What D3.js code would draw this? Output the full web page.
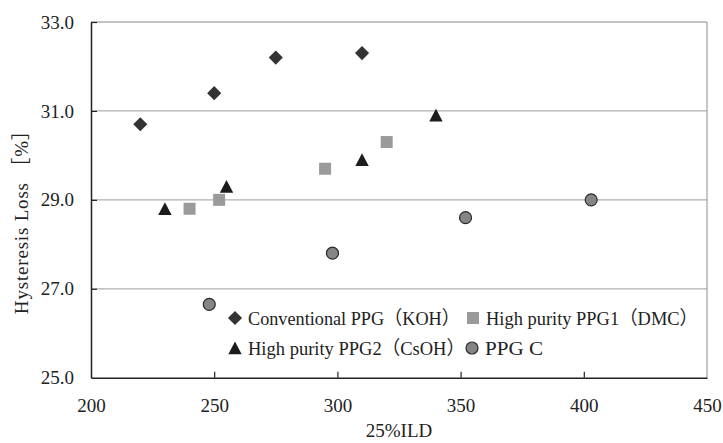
<!DOCTYPE html>
<html>
<head>
<meta charset="utf-8">
<script src="https://cdn.jsdelivr.net/npm/d3@7"></script>
<style>
  body { margin: 0; background: #fff; }
  svg text { font-family: "Liberation Serif", "DejaVu Serif", "Noto Sans CJK JP", serif; fill: #222; }
</style>
</head>
<body>
<div id="chart"></div>
<script>
// data: [25%ILD, hysteresis loss %]
const conventionalKOH = [[220, 30.7], [250, 31.4], [275, 32.2], [310, 32.3]];
const highPurityDMC = [[240, 28.8], [252, 29.0], [295, 29.7], [320, 30.3]];
const highPurityCsOH = [[230, 28.8], [255, 29.3], [310, 29.9], [340, 30.9]];
const ppgC = [[248, 26.65], [298, 27.8], [352, 28.6], [403, 29.0]];

const xTicks = [200, 250, 300, 350, 400, 450];
const yTicks = [25, 27, 29, 31, 33];

const seriesNames = ["Conventional PPG（KOH）", "High purity PPG1（DMC）", "High purity PPG2（CsOH）", "PPG C"];

const cfg = {
    width: 723,
    height: 443,
    margin: { top: 22, right: 16, bottom: 65.3, left: 91 },
    fontSize: 19,
    font: "'Liberation Serif', 'DejaVu Serif', serif",
}

const width = cfg.width - cfg.margin.left - cfg.margin.right,
    height = cfg.height - cfg.margin.top - cfg.margin.bottom;

const x = d3.scaleLinear().domain([200, 450]).range([0, width]);
const y = d3.scaleLinear().domain([25, 33]).range([height, 0]);

const root = d3.select("#chart")
    .append("svg")
    .attr("width", cfg.width)
    .attr("height", cfg.height)
    .style("font-family", cfg.font);

const svg = root.append("g")
    .attr("transform", "translate(" + cfg.margin.left + "," + cfg.margin.top + ")");

// marker shapes (Excel-like)
const diamond = d3.symbol().type(d3.symbolSquare).size(100)();
const square = d3.symbol().type(d3.symbolSquare).size(144)();
const triangle = "M0,-6.5L6.7,6.2L-6.7,6.2Z";
const circle = d3.symbol().type(d3.symbolCircle).size(Math.PI * 36)();

const series = [
    { name: seriesNames[0], data: conventionalKOH, path: diamond, rotate: 45, fill: "#333333", stroke: "none" },
    { name: seriesNames[1], data: highPurityDMC, path: square, rotate: 0, fill: "#9a9a9a", stroke: "none" },
    { name: seriesNames[2], data: highPurityCsOH, path: triangle, rotate: 0, fill: "#1c1c1c", stroke: "none" },
    { name: seriesNames[3], data: ppgC, path: circle, rotate: 0, fill: "#858585", stroke: "#2a2a2a" },
];

// gridlines
svg.append("g")
    .selectAll("line")
    .data(yTicks.slice(1))
    .enter()
    .append("line")
    .attr("x1", 0)
    .attr("x2", width)
    .attr("y1", (d) => y(d))
    .attr("y2", (d) => y(d))
    .attr("stroke", "#b0b0b0")
    .attr("stroke-width", 1.3);

// right border
svg.append("line")
    .attr("x1", width).attr("x2", width)
    .attr("y1", 0).attr("y2", height)
    .attr("stroke", "#a0a0a0")
    .attr("stroke-width", 1.2);

// axes, ticks pointing inward
const xAxis = svg.append("g")
    .attr("transform", "translate(0," + height + ")")
    .call(d3.axisBottom(x).tickValues(xTicks).tickSizeInner(-6).tickSizeOuter(0).tickPadding(21));

const yAxis = svg.append("g")
    .call(d3.axisLeft(y).tickValues(yTicks).tickFormat(d3.format(".1f")).tickSizeInner(-6).tickSizeOuter(0).tickPadding(17));

[xAxis, yAxis].forEach((a) => {
    a.attr("font-family", null).attr("font-size", null);
    a.select(".domain").attr("stroke", "#222").attr("stroke-width", 1.5);
    a.selectAll(".tick line").attr("stroke", "#222").attr("stroke-width", 1.2);
    a.selectAll(".tick text")
        .attr("fill", "#222")
        .style("font-size", cfg.fontSize + "px");
});
xAxis.selectAll(".tick").filter((d) => d === 200 || d === 450).select("line").remove();
yAxis.selectAll(".tick").filter((d) => d === 25).select("line").remove();

// axis titles
svg.append("text")
    .attr("x", width / 2)
    .attr("y", height + 59)
    .attr("text-anchor", "middle")
    .style("font-size", cfg.fontSize + "px")
    .text("25%ILD");

svg.append("text")
    .attr("transform", "translate(" + (28 - cfg.margin.left) + "," + (y(28.6)) + ") rotate(-90)")
    .attr("text-anchor", "middle")
    .attr("textLength", 193)
    .attr("lengthAdjust", "spacing")
    .style("font-size", cfg.fontSize + "px")
    .text("Hysteresis Loss ［%］");

// points
series.forEach((s) => {
    svg.append("g")
        .selectAll("path")
        .data(s.data)
        .enter()
        .append("path")
        .attr("d", s.path)
        .attr("transform", (d) => "translate(" + x(d[0]) + "," + y(d[1]) + ") rotate(" + s.rotate + ")")
        .attr("fill", s.fill)
        .attr("stroke", s.stroke)
        .attr("stroke-width", 1.2);
});

// legend: two rows, two columns
const legendPos = [
    { mx: 235, ty: 318, tw: 212 },
    { mx: 473, ty: 318, tw: 212 },
    { mx: 235, ty: 348, tw: 217 },
    { mx: 472, ty: 348, tw: 58 },
];

const legend = root.append("g");
series.forEach((s, i) => {
    const p = legendPos[i];
    legend.append("path")
        .attr("d", s.path)
        .attr("transform", "translate(" + p.mx + "," + p.ty + ") rotate(" + s.rotate + ")")
        .attr("fill", s.fill)
        .attr("stroke", s.stroke)
        .attr("stroke-width", 1.2);
    legend.append("text")
        .attr("x", p.mx + 13)
        .attr("y", p.ty + 7)
        .attr("textLength", p.tw)
        .attr("lengthAdjust", "spacingAndGlyphs")
        .style("font-size", cfg.fontSize + "px")
        .text(s.name);
});
</script>
</body>
</html>
